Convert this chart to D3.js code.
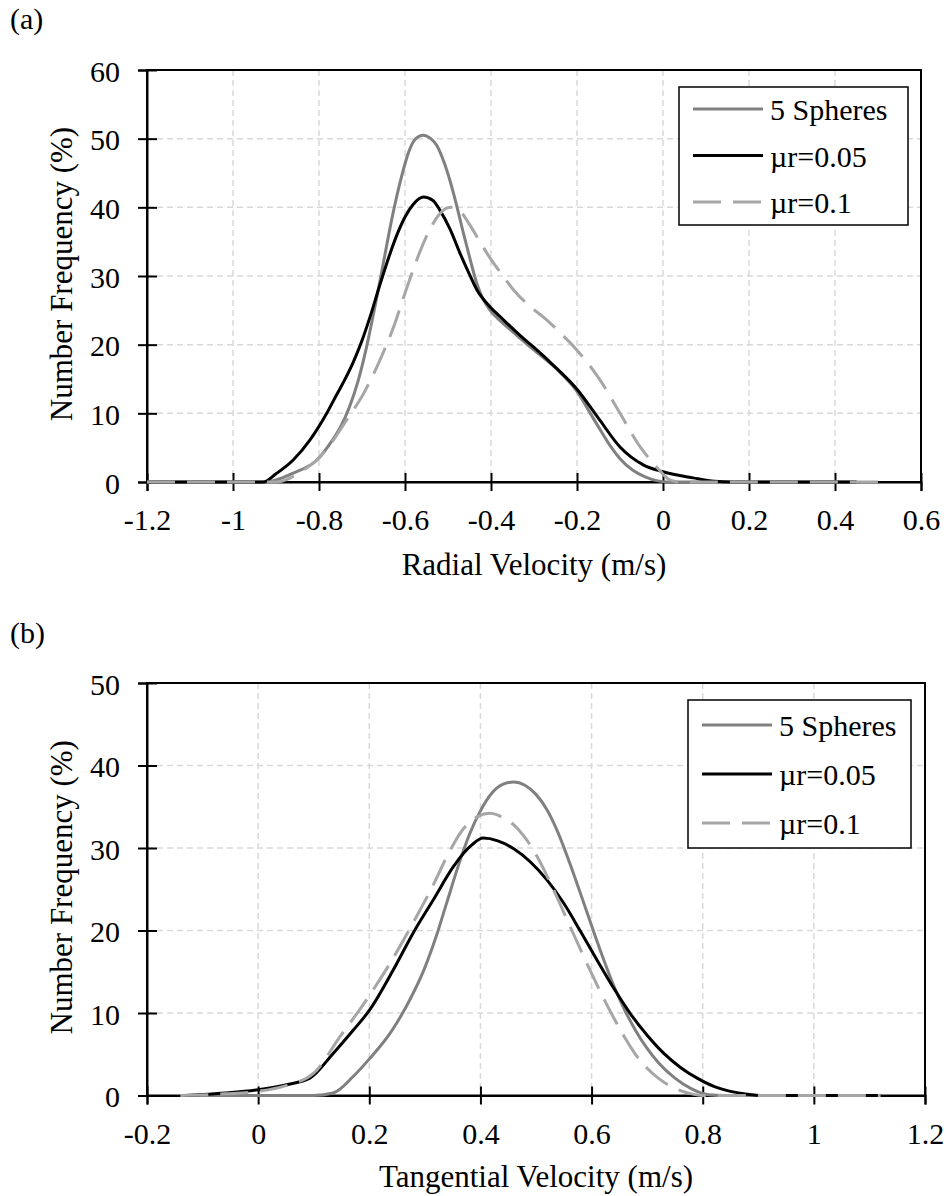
<!DOCTYPE html>
<html>
<head>
<meta charset="utf-8">
<script src="https://cdn.jsdelivr.net/npm/d3@7"></script>
<style>
  body { margin: 0; background: #fff; }
  svg text { font-family: "Liberation Serif", "Times New Roman", serif; fill: #000; }
</style>
</head>
<body>
<svg id="chart" width="947" height="1196"></svg>
<script>
// legend names, same order for both panels
var seriesNames = ["5 Spheres", "\u00b5r=0.05", "\u00b5r=0.1"];

// (a) radial velocity
var radialTicksX = [-1.2, -1, -0.8, -0.6, -0.4, -0.2, 0, 0.2, 0.4, 0.6];
var radialTicksY = [0, 10, 20, 30, 40, 50, 60];
var radialSpheres = [[-1.2,0],[-0.93,0],[-0.9,0.3],[-0.86,1.3],[-0.805,3.2],[-0.77,6],[-0.75,8],[-0.73,10.8],
  [-0.71,14.5],[-0.69,19.5],[-0.67,25.5],[-0.65,32],[-0.63,38.5],[-0.61,44],[-0.59,48.3],[-0.575,50],[-0.558,50.5],
  [-0.54,50],[-0.526,49],[-0.51,46.7],[-0.495,43.8],[-0.48,40.3],[-0.464,36.2],[-0.448,32.3],[-0.433,28.9],
  [-0.418,26.6],[-0.402,25],[-0.379,23.5],[-0.348,21.8],[-0.302,19.3],[-0.25,16.6],[-0.2,13.2],[-0.17,10.1],
  [-0.145,7.5],[-0.123,5.3],[-0.1,3.4],[-0.07,1.7],[-0.04,0.7],[-0.015,0.2],[0.01,0],[0.45,0]];
var radialMu005 = [[-1.2,0],[-0.93,0],[-0.9,1.2],[-0.86,3.2],[-0.82,6.2],[-0.782,10],[-0.76,12.6],[-0.74,14.9],
  [-0.72,17.5],[-0.7,20.6],[-0.68,24.3],[-0.66,28.4],[-0.64,32.3],[-0.62,35.8],[-0.6,38.6],[-0.58,40.5],
  [-0.557,41.5],[-0.535,41],[-0.519,39.6],[-0.495,36.8],[-0.472,33.3],[-0.452,30.5],[-0.433,28],[-0.402,25.5],
  [-0.379,24.1],[-0.33,21.2],[-0.302,19.7],[-0.25,16.7],[-0.2,13.5],[-0.147,9],[-0.1,5.1],[-0.046,2.5],[0,1.5],
  [0.07,0.6],[0.12,0.1],[0.16,0],[0.45,0]];
var radialMu01 = [[-1.2,0],[-0.9,0],[-0.87,0.5],[-0.84,1.6],[-0.805,3.2],[-0.77,5.8],[-0.736,9],[-0.697,12.8],
  [-0.658,17.8],[-0.627,22.5],[-0.6,27.5],[-0.573,32.3],[-0.542,36.8],[-0.52,39],[-0.495,40],[-0.47,39.3],
  [-0.449,37.4],[-0.426,35],[-0.402,32.6],[-0.371,29.9],[-0.348,28],[-0.302,25.2],[-0.278,24],[-0.24,21.8],
  [-0.2,19.2],[-0.147,14.9],[-0.1,10],[-0.053,5.1],[-0.015,2.2],[0.016,0.3],[0.04,0],[0.51,0]];

// (b) tangential velocity
var tangTicksX = [-0.2, 0, 0.2, 0.4, 0.6, 0.8, 1, 1.2];
var tangTicksY = [0, 10, 20, 30, 40, 50];
var tangSpheres = [[-0.13,0],[0.1,0],[0.135,0.3],[0.171,2.3],[0.201,4.5],[0.237,7.5],[0.273,11.6],[0.3,15.5],
  [0.32,19.2],[0.34,23.5],[0.36,27.8],[0.38,31.6],[0.4,34.5],[0.42,36.6],[0.44,37.7],[0.46,38],[0.48,37.6],
  [0.5,36.5],[0.52,34.6],[0.54,31.8],[0.56,28.3],[0.58,24.5],[0.6,20.6],[0.62,16.8],[0.64,13.3],[0.66,10.3],
  [0.68,7.8],[0.7,5.7],[0.72,4],[0.75,2.1],[0.78,0.8],[0.81,0.1],[0.84,0],[1.12,0]];
var tangMu005 = [[-0.13,0],[-0.06,0.3],[0,0.7],[0.051,1.3],[0.093,2.1],[0.135,5.1],[0.171,7.9],[0.201,10.4],
  [0.243,15.2],[0.279,19.7],[0.315,23.7],[0.351,27.7],[0.37,29.4],[0.385,30.4],[0.405,31.2],[0.43,30.9],
  [0.46,29.9],[0.49,28.3],[0.52,26.1],[0.55,23.3],[0.58,19.9],[0.61,16.4],[0.64,13],[0.67,9.9],[0.7,7.3],
  [0.73,5.1],[0.76,3.4],[0.79,2.1],[0.82,1.1],[0.85,0.5],[0.88,0.15],[0.91,0],[1.12,0]];
var tangMu01 = [[-0.14,0],[-0.06,0.2],[0,0.5],[0.05,1.2],[0.1,2.7],[0.147,7.1],[0.195,11.6],[0.237,16],
  [0.285,21.7],[0.315,25.5],[0.34,29],[0.369,32.3],[0.395,33.8],[0.417,34.2],[0.44,33.7],[0.46,32.8],
  [0.48,31.3],[0.5,29.2],[0.52,26.6],[0.54,23.7],[0.56,20.7],[0.58,17.7],[0.6,14.8],[0.62,12],[0.64,9.4],
  [0.66,7],[0.68,4.9],[0.7,3.3],[0.72,2.1],[0.74,1.2],[0.76,0.6],[0.78,0.2],[0.8,0],[1.12,0]];

var seriesStyle = [
  {color: "#808080", dash: null},
  {color: "#000000", dash: null},
  {color: "#a6a6a6", dash: "28,12"}
];

var svg = d3.select("#chart");
svg.append("rect").attr("width", 947).attr("height", 1196).attr("fill", "#fff");

var fmt = function(d) { return String(+d.toFixed(1)); };

function drawPanel(p) {
  var x = d3.scaleLinear().domain([p.ticksX[0], p.ticksX[p.ticksX.length-1]]).range([p.left, p.right]);
  var y = d3.scaleLinear().domain([p.ticksY[0], p.ticksY[p.ticksY.length-1]]).range([p.bottom, p.top]);
  var g = svg.append("g");

  // panel letter
  g.append("text").attr("x", 10).attr("y", p.letterY).style("font-size", "30px").text(p.letter);

  // grid
  g.append("g").selectAll("line").data(p.ticksX.slice(1, -1)).join("line")
    .attr("x1", d => x(d)).attr("x2", d => x(d)).attr("y1", p.top).attr("y2", p.bottom)
    .attr("stroke", "#d9d9d9").attr("stroke-width", 1.5).attr("stroke-dasharray", "6,4");
  g.append("g").selectAll("line").data(p.ticksY.slice(1, -1)).join("line")
    .attr("y1", d => y(d)).attr("y2", d => y(d)).attr("x1", p.left).attr("x2", p.right)
    .attr("stroke", "#d9d9d9").attr("stroke-width", 1.5).attr("stroke-dasharray", "6,4");

  // frame
  g.append("rect").attr("x", p.left).attr("y", p.top)
    .attr("width", p.right - p.left).attr("height", p.bottom - p.top)
    .attr("fill", "none").attr("stroke", "#000").attr("stroke-width", 2);

  // axes, ticks cross the line
  var xa = g.append("g").attr("transform", "translate(0," + p.bottom + ")")
    .call(d3.axisBottom(x).tickValues(p.ticksX).tickFormat(fmt).tickSizeOuter(0).tickSize(9));
  xa.selectAll(".tick line").attr("y1", -9).attr("stroke-width", 2);
  xa.selectAll(".tick text").attr("y", 48).attr("dy", null).style("font-size", "30px");
  xa.select(".domain").attr("stroke-width", 2);

  var ya = g.append("g").attr("transform", "translate(" + p.left + ",0)")
    .call(d3.axisLeft(y).tickValues(p.ticksY).tickFormat(fmt).tickSizeOuter(0).tickSize(9));
  ya.selectAll(".tick line").attr("x1", 10).attr("stroke-width", 2);
  ya.selectAll(".tick text").attr("x", -27).attr("dy", 11).style("font-size", "30px");
  ya.select(".domain").attr("stroke-width", 2);

  g.selectAll(".domain, .tick line").attr("stroke", "#000");

  // axis titles
  g.append("text").attr("x", (p.left + p.right) / 2).attr("y", p.titleY)
    .attr("text-anchor", "middle").style("font-size", "31px").text(p.xTitle);
  g.append("text")
    .attr("transform", "translate(72," + ((p.top + p.bottom) / 2 - 2) + ") rotate(-90)")
    .attr("text-anchor", "middle").style("font-size", "31px").text("Number Frequency (%)");

  // curves
  var line = d3.line().x(d => x(d[0])).y(d => y(d[1])).curve(d3.curveMonotoneX);
  p.series.forEach(function(s, i) {
    g.append("path").datum(s).attr("d", line)
      .attr("fill", "none").attr("stroke", seriesStyle[i].color).attr("stroke-width", 3)
      .attr("stroke-linejoin", "round").attr("stroke-dasharray", seriesStyle[i].dash);
  });

  // legend
  var L = p.legend;
  g.append("rect").attr("x", L.x).attr("y", L.y).attr("width", L.w).attr("height", L.h)
    .attr("fill", "#fff").attr("stroke", "#000").attr("stroke-width", 1.5);
  seriesNames.forEach(function(name, i) {
    var ly = L.y + L.first + i * L.step;
    g.append("line").attr("x1", L.x + 14).attr("x2", L.x + 84).attr("y1", ly).attr("y2", ly)
      .attr("stroke", seriesStyle[i].color).attr("stroke-width", 3)
      .attr("stroke-dasharray", seriesStyle[i].dash);
    g.append("text").attr("x", L.x + 91).attr("y", ly + 11).style("font-size", "30px").text(name);
  });
}

drawPanel({
  letter: "(a)", letterY: 29,
  left: 147, right: 921, top: 70, bottom: 482,
  ticksX: radialTicksX, ticksY: radialTicksY,
  series: [radialSpheres, radialMu005, radialMu01],
  xTitle: "Radial Velocity (m/s)", titleY: 575,
  legend: {x: 679, y: 87, w: 229, h: 138, first: 22, step: 46.5}
});

drawPanel({
  letter: "(b)", letterY: 643,
  left: 147, right: 925, top: 683, bottom: 1095.5,
  ticksX: tangTicksX, ticksY: tangTicksY,
  series: [tangSpheres, tangMu005, tangMu01],
  xTitle: "Tangential Velocity (m/s)", titleY: 1187,
  legend: {x: 688, y: 700, w: 223, h: 148, first: 25, step: 49}
});
</script>
</body>
</html>
